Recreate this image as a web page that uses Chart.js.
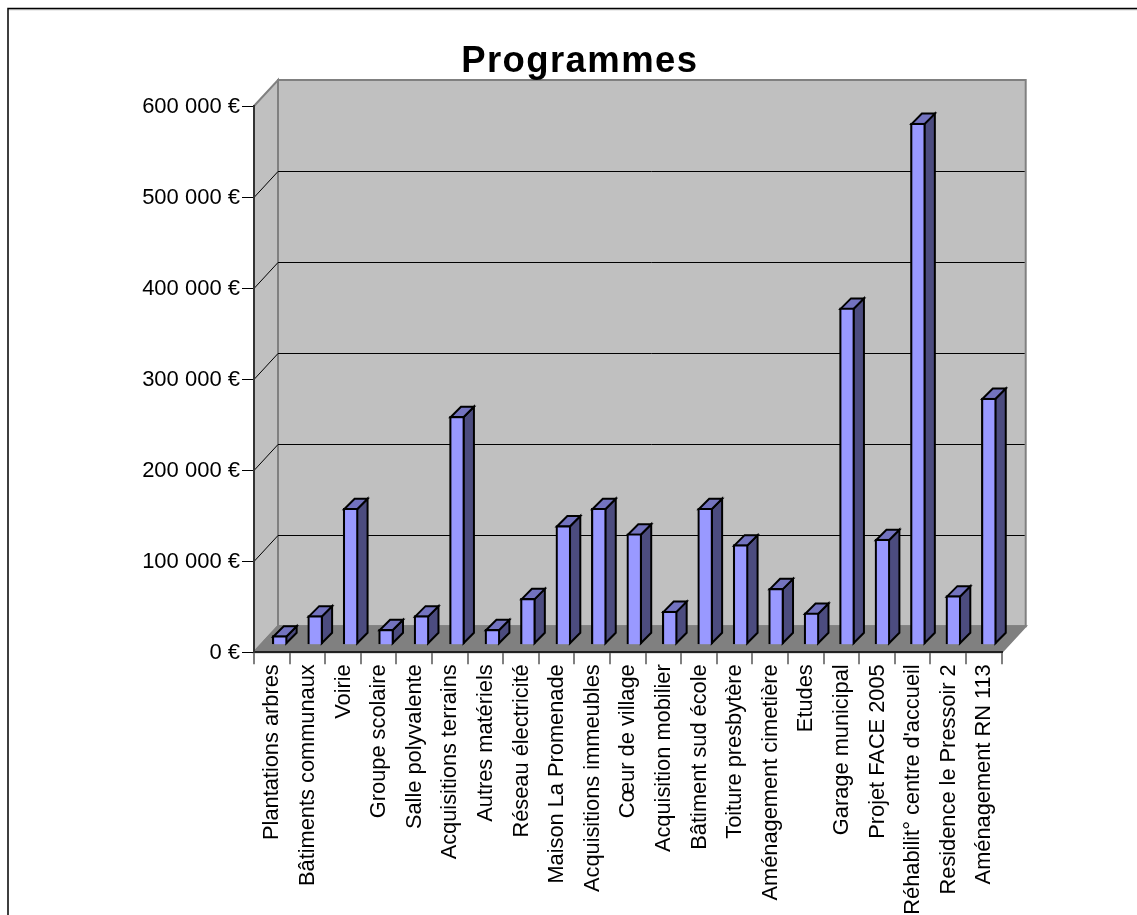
<!DOCTYPE html>
<html>
<head>
<meta charset="utf-8">
<title>Programmes</title>
<script src="https://cdn.jsdelivr.net/npm/chart.js@4"></script>
<style>
  html, body { margin: 0; padding: 0; background: #fff; overflow: hidden; }
  canvas { display: block; }
</style>
</head>
<body>
<canvas id="graph" width="1137" height="915"></canvas>
<script>
const categories = [
  'Plantations arbres', 'Bâtiments communaux', 'Voirie', 'Groupe scolaire',
  'Salle polyvalente', 'Acquisitions terrains', 'Autres matériels', 'Réseau électricité',
  'Maison La Promenade', 'Acquisitions immeubles', 'Cœur de village', 'Acquisition mobilier',
  'Bâtiment sud école', 'Toiture presbytère', 'Aménagement cimetière', 'Etudes',
  'Garage municipal', 'Projet FACE 2005', "Réhabilit° centre d'accueil",
  'Residence le Pressoir 2', 'Aménagement RN 113'
];
const amounts = [
  10000, 32000, 150000, 17000, 32000, 251000, 17000, 51000, 131000, 150000, 122000,
  37000, 150000, 110000, 62000, 35000, 370000, 116000, 573000, 54000, 271000
];
const yTickLabels = ['0 €', '100 000 €', '200 000 €', '300 000 €', '400 000 €', '500 000 €', '600 000 €'];

// profondeur du fond et decalage des barres (faux 3D)
const wallX = 24, wallY = 26;
const barShiftX = 8, barShiftY = 7.5, barPitch = 0.9958;
const barDepth = 10.5;
// le titre est centre sur le graphique d'origine, pas sur la zone du canvas
const titleShift = 29;

const box3d = {
  id: 'box3d',
  beforeDraw(chart) {
    const c = chart.ctx, a = chart.chartArea, y = chart.scales.y;
    const tb = chart.titleBlock;
    if (!tb._spaced) {
      const drawTitle = tb.draw;
      tb.draw = function() {
        c.save();
        c.translate(titleShift, 0);
        c.letterSpacing = '1.4px';
        drawTitle.call(this);
        c.restore();
      };
      tb._spaced = true;
    }
    c.save();
    // cadre haut et gauche
    c.strokeStyle = '#000';
    c.lineWidth = 1.5;
    c.beginPath();
    c.moveTo(8, 915);
    c.lineTo(8, 8.5);
    c.lineTo(1137, 8.5);
    c.stroke();
    c.strokeStyle = '#999';
    c.lineWidth = 1;
    c.beginPath();
    c.moveTo(9, 9.7);
    c.lineTo(1137, 9.7);
    c.stroke();

    const bl = a.left + wallX, br = a.right + wallX, bt = a.top - wallY, bb = a.bottom - wallY;
    c.lineWidth = 2;
    c.strokeStyle = '#808080';
    // mur gauche
    c.fillStyle = '#c0c0c0';
    c.beginPath();
    c.moveTo(a.left, a.top);
    c.lineTo(bl, bt);
    c.lineTo(bl, bb);
    c.lineTo(a.left, a.bottom);
    c.closePath();
    c.fill();
    c.stroke();
    // fond
    c.fillRect(bl, bt, br - bl, bb - bt);
    c.strokeRect(bl, bt, br - bl, bb - bt);
    // sol
    c.fillStyle = '#808080';
    c.beginPath();
    c.moveTo(a.left, a.bottom);
    c.lineTo(bl, bb);
    c.lineTo(br, bb);
    c.lineTo(a.right, a.bottom);
    c.closePath();
    c.fill();
    c.stroke();
    // quadrillage
    c.strokeStyle = '#000';
    c.lineWidth = 1;
    y.ticks.forEach(t => {
      if (t.value === 0 || t.value === y.max) return;
      const py = Math.round(y.getPixelForValue(t.value)) + 0.5;
      c.beginPath();
      c.moveTo(a.left, py);
      c.lineTo(bl, py - wallY);
      c.lineTo(br - 1, py - wallY);
      c.stroke();
    });
    c.restore();
  },
  beforeDatasetsDraw(chart) {
    const c = chart.ctx, a = chart.chartArea;
    c.save();
    c.translate(a.left + barShiftX, -barShiftY);
    c.scale(barPitch, 1);
    c.translate(-a.left, 0);
    c.lineWidth = 2;
    c.strokeStyle = '#000';
    c.lineJoin = 'miter';
    chart.getDatasetMeta(0).data.forEach(bar => {
      const p = bar.getProps(['x', 'y', 'base', 'width'], true);
      const l = p.x - p.width / 2 + 1, r = p.x + p.width / 2 - 1;
      const t = p.y + 1, b = p.base - 1;
      c.fillStyle = '#4c4c7f';
      c.beginPath();
      c.moveTo(r, t);
      c.lineTo(r + barDepth, t - barDepth);
      c.lineTo(r + barDepth, b - barDepth);
      c.lineTo(r, b);
      c.closePath();
      c.fill();
      c.stroke();
      c.fillStyle = '#7373bf';
      c.beginPath();
      c.moveTo(l, t);
      c.lineTo(l + barDepth, t - barDepth);
      c.lineTo(r + barDepth, t - barDepth);
      c.lineTo(r, t);
      c.closePath();
      c.fill();
      c.stroke();
    });
  },
  afterDatasetsDraw(chart) {
    chart.ctx.restore();
  }
};

new Chart(document.getElementById('graph').getContext('2d'), {
  type: 'bar',
  data: {
    labels: categories,
    datasets: [{
      label: 'Programmes',
      data: amounts,
      backgroundColor: '#9999ff',
      borderColor: '#000',
      borderWidth: 2.2,
      barThickness: 15,
      clip: false
    }]
  },
  options: {
    responsive: false,
    animation: false,
    devicePixelRatio: 1,
    layout: { padding: { left: 100, right: 135.3, top: 0, bottom: 0 } },
    plugins: {
      legend: { display: false },
      tooltip: { enabled: false },
      title: {
        display: true,
        text: 'Programmes',
        color: '#000',
        font: { family: '"Liberation Sans"', size: 36.5, weight: 'bold', lineHeight: 1.2 },
        padding: { top: 39.6, bottom: 22.6 }
      }
    },
    scales: {
      x: {
        afterFit: s => { s.height = 262.7; },
        grid: { drawOnChartArea: false, color: '#808080', lineWidth: 2, tickLength: 12 },
        border: { color: '#222', width: 2 },
        ticks: {
          autoSkip: false,
          minRotation: 90,
          maxRotation: 90,
          padding: 0,
          labelOffset: 0.5,
          color: '#000',
          font: { family: '"Liberation Sans"', size: 21.8 }
        }
      },
      y: {
        min: 0,
        max: 600000,
        afterFit: s => { s.width = 154; },
        grid: { drawOnChartArea: false, color: '#000', lineWidth: 1, tickLength: 12 },
        border: { color: '#333', width: 2 },
        ticks: {
          stepSize: 100000,
          padding: 2,
          labelOffset: 1,
          color: '#000',
          font: { family: '"Liberation Sans"', size: 22 },
          callback: v => yTickLabels[v / 100000]
        }
      }
    }
  },
  plugins: [box3d]
});
</script>
</body>
</html>
